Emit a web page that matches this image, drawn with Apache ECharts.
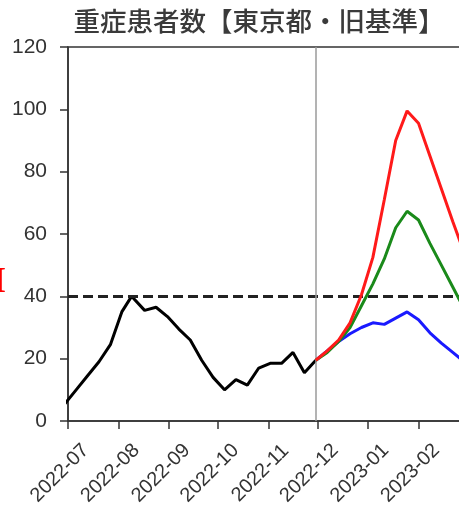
<!DOCTYPE html>
<html>
<head>
<meta charset="utf-8">
<script src="https://cdn.jsdelivr.net/npm/echarts@6/dist/echarts.min.js"></script>
<style>
html, body { margin: 0; padding: 0; background: #ffffff; }
#chart { width: 459px; height: 514px; }
</style>
</head>
<body>
<div id="chart"></div>
<script>
const titleText = '重症患者数【東京都・旧基準】';
const sideNote = 'I';
const tickLabels = ['2022-07', '2022-08', '2022-09', '2022-10', '2022-11', '2022-12', '2023-01', '2023-02'];

const actualDates = ['2022-06-29', '2022-07-06', '2022-07-13', '2022-07-20', '2022-07-27', '2022-08-03',
  '2022-08-09', '2022-08-17', '2022-08-24', '2022-08-31', '2022-09-07', '2022-09-14', '2022-09-21',
  '2022-09-28', '2022-10-05', '2022-10-12', '2022-10-19', '2022-10-26', '2022-11-02', '2022-11-09',
  '2022-11-16', '2022-11-23', '2022-11-30'];
const actualValues = [5.5, 10, 14.5, 19, 24.5, 35, 40, 35.5, 36.5, 33.5, 29.5, 26, 19.5,
  14, 10, 13.3, 11.5, 17, 18.5, 18.5, 22, 15.5, 19.5];

const forecastDates = ['2022-11-30', '2022-12-07', '2022-12-14', '2022-12-21', '2022-12-28', '2023-01-04',
  '2023-01-11', '2023-01-18', '2023-01-25', '2023-02-01', '2023-02-08', '2023-02-15', '2023-02-22', '2023-03-01'];
const highValues = [19.5, 22.5, 26, 31.5, 40.5, 52.5, 71, 90, 99.5, 95.5, 85, 74.5, 64, 54];
const midValues = [19.5, 22, 25.5, 30, 37, 44, 52, 62, 67.3, 64.5, 57, 50, 43, 36];
const lowValues = [19.5, 22.5, 25.5, 28, 30, 31.5, 31, 33, 35, 32.5, 28.3, 25, 22, 19];

const thresholdValue = 40;
const dividerDate = '2022-11-29 18:00';
const xMin = '2022-07-01';
const xMax = '2023-03-15';
const yMin = 0, yMax = 120, yStep = 20;

// local-time parsing of 'YYYY-MM-DD[ HH:mm]' and 'YYYY-MM'
function toTime(s) {
  const m = s.match(/^(\d{4})-(\d{2})(?:-(\d{2}))?(?:[ T](\d{2}):(\d{2}))?$/);
  return new Date(+m[1], +m[2] - 1, m[3] ? +m[3] : 1, m[4] ? +m[4] : 0, m[5] ? +m[5] : 0).getTime();
}
const tickValues = tickLabels.map(toTime);
function pairs(dates, values) {
  return dates.map((d, i) => [toTime(d), values[i]]);
}

const numFont = 'Liberation Sans';
const chart = echarts.init(document.getElementById('chart'), null, { renderer: 'canvas' });
chart.setOption({
  animation: false,
  backgroundColor: '#ffffff',
  title: {
    text: titleText,
    left: 259,
    top: 8,
    padding: 0,
    textAlign: 'center',
    textStyle: { fontFamily: 'Noto Sans CJK JP', fontSize: 26.5, fontWeight: 500, color: '#3a3a3a' }
  },
  graphic: [{
    type: 'text', x: -1, y: 283, silent: true,
    style: { text: sideNote, fill: '#ff0000', fontFamily: 'Liberation Serif', fontWeight: 'bold', fontSize: 36, align: 'center', verticalAlign: 'middle' }
  }],
  grid: {
    left: 68, top: 47, bottom: 93, right: -28,
    outerBoundsMode: 'none',
    containLabel: false,
    show: true, borderColor: '#333333', borderWidth: 1.5, backgroundColor: 'transparent'
  },
  xAxis: {
    type: 'value',
    min: toTime(xMin),
    max: toTime(xMax),
    splitLine: { show: false },
    axisLine: { show: true, onZero: false, lineStyle: { color: '#333333', width: 1.5 } },
    axisTick: { show: true, inside: false, length: 8, lineStyle: { color: '#333333', width: 1.5 }, customValues: tickValues },
    axisLabel: {
      customValues: tickValues,
      rotate: 45,
      align: 'center',
      verticalAlign: 'middle',
      margin: 44,
      padding: [0, 23, 0, 0],
      fontFamily: numFont,
      fontSize: 20,
      color: '#333333',
      formatter: function (v) {
        const i = tickValues.indexOf(v);
        return i >= 0 ? tickLabels[i] : '';
      }
    }
  },
  yAxis: {
    type: 'value',
    min: yMin, max: yMax, interval: yStep,
    splitLine: { show: false },
    axisLine: { show: true, lineStyle: { color: '#333333', width: 1.5 } },
    axisTick: { show: true, inside: false, length: 8, lineStyle: { color: '#333333', width: 1.5 } },
    axisLabel: { margin: 21, fontFamily: numFont, fontSize: 21, color: '#333333' }
  },
  series: [
    {
      name: 'actual', type: 'line', data: pairs(actualDates, actualValues),
      showSymbol: false, symbol: 'none', lineStyle: { color: '#000000', width: 3 }, z: 3,
      markLine: {
        silent: true, symbol: ['none', 'none'], label: { show: false },
        data: [
          { yAxis: thresholdValue, lineStyle: { color: '#222222', width: 3, type: [10, 5] } },
          { xAxis: toTime(dividerDate), lineStyle: { color: '#9a9a9a', width: 1.5, type: 'solid' } }
        ]
      }
    },
    {
      name: 'low', type: 'line', data: pairs(forecastDates, lowValues),
      showSymbol: false, symbol: 'none', lineStyle: { color: '#1a1aff', width: 3 }, z: 4
    },
    {
      name: 'mid', type: 'line', data: pairs(forecastDates, midValues),
      showSymbol: false, symbol: 'none', lineStyle: { color: '#1a8a1a', width: 3 }, z: 5
    },
    {
      name: 'high', type: 'line', data: pairs(forecastDates, highValues),
      showSymbol: false, symbol: 'none', lineStyle: { color: '#ff1a1a', width: 3 }, z: 6
    }
  ]
});
</script>
</body>
</html>
